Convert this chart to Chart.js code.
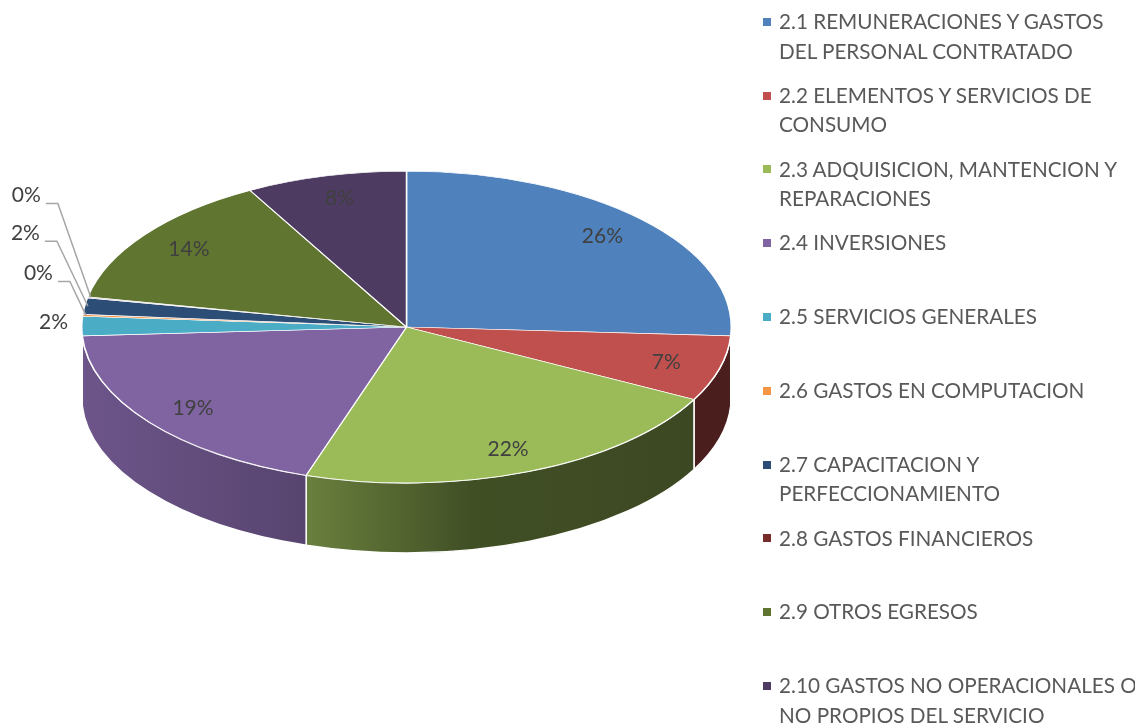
<!DOCTYPE html>
<html>
<head>
<meta charset="utf-8">
<script src="https://cdn.jsdelivr.net/npm/chart.js@4.4.1/dist/chart.umd.min.js"></script>
<style>
  html, body { margin: 0; padding: 0; background: #fff; overflow: hidden; }
  #wrap { position: relative; width: 1135px; height: 728px; }
  #pie { position: absolute; left: 0; top: 0; }
  #legend { position: absolute; left: 763px; top: 7px; width: 378px; font-family: Lato, sans-serif; font-size: 20.7px; color: #595959; }
  .item { position: relative; height: 73.8px; padding-left: 16px; line-height: 29.5px; }
  .item .box { position: absolute; left: 0; top: 10.75px; width: 8px; height: 8px; }
</style>
</head>
<body>
<div id="wrap">
  <canvas id="pie" width="1135" height="728"></canvas>
  <div id="legend"></div>
</div>
<script>
const categories = [
    '2.1 REMUNERACIONES Y GASTOS DEL PERSONAL CONTRATADO',
    '2.2 ELEMENTOS Y SERVICIOS DE CONSUMO',
    '2.3 ADQUISICION, MANTENCION Y REPARACIONES',
    '2.4 INVERSIONES',
    '2.5 SERVICIOS GENERALES',
    '2.6 GASTOS EN COMPUTACION',
    '2.7 CAPACITACION Y PERFECCIONAMIENTO',
    '2.8 GASTOS FINANCIEROS',
    '2.9 OTROS EGRESOS',
    '2.10 GASTOS NO OPERACIONALES O NO PROPIOS DEL SERVICIO'
];
const shares = [25.9, 6.8, 22.3, 19.1, 2.0, 0.2, 1.7, 0.1, 13.9, 8.0];
const colors = ['#4F81BD', '#C0504D', '#9BBB59', '#8064A2', '#4BACC6',
                '#F79646', '#2C4D75', '#772C2A', '#5F7530', '#4D3B62'];

// 3d look
const tilt = 0.48;
const depth = 70;
const topY = 327;
const sideShade = [[0, 0.85], [0.35, 0.68], [0.6, 0.42], [1, 0.38]];
// where the small outside labels sit, relative to their slice edge
const outsideOffsets = [[-17, -4], [-33, -42], [-48, -73], [-50, -102]];

function shade(hex, f) {
    const n = parseInt(hex.slice(1), 16);
    const r = (n >> 16) & 255, g = (n >> 8) & 255, b = n & 255;
    return `rgb(${Math.round(r * f)},${Math.round(g * f)},${Math.round(b * f)})`;
}

const pie3d = {
    id: 'pie3d',
    beforeDatasetsDraw(chart) {
        const ctx = chart.ctx;
        const arcs = chart.getDatasetMeta(0).data;
        const { x: cx, y: cy, outerRadius: R } = arcs[0];
        const r = R * tilt;

        // outer wall, only the front half shows
        arcs.forEach((arc, i) => {
            const a = Math.max(arc.startAngle, 0);
            const b = Math.min(arc.endAngle, Math.PI);
            if (b <= a) return;
            const grad = ctx.createLinearGradient(cx - R, 0, cx + R, 0);
            sideShade.forEach(([p, f]) => grad.addColorStop(p, shade(colors[i], f)));
            ctx.beginPath();
            ctx.ellipse(cx, topY, R, r, 0, a, b);
            ctx.ellipse(cx, topY + depth, R, r, 0, b, a, true);
            ctx.closePath();
            ctx.fillStyle = grad;
            ctx.fill();
            ctx.strokeStyle = '#fff';
            ctx.lineWidth = 1.5;
            ctx.stroke();
        });

        // squash the top face into an ellipse
        ctx.save();
        ctx.translate(0, topY);
        ctx.scale(1, tilt);
        ctx.translate(0, -cy);
    },
    afterDatasetsDraw(chart) {
        const ctx = chart.ctx;
        ctx.restore();

        const arcs = chart.getDatasetMeta(0).data;
        const { x: cx, outerRadius: R } = arcs[0];
        const r = R * tilt;
        const total = shares.reduce((s, v) => s + v, 0);

        ctx.save();
        ctx.font = '21px Lato, sans-serif';
        ctx.fillStyle = '#404040';
        ctx.textBaseline = 'middle';
        let k = 0;
        arcs.forEach((arc, i) => {
            const pct = Math.round(shares[i] / total * 100) + '%';
            const mid = (arc.startAngle + arc.endAngle) / 2;
            if (shares[i] / total >= 0.03) {
                ctx.textAlign = 'center';
                ctx.fillText(pct, cx + 0.83 * R * Math.cos(mid), topY + 0.85 * r * Math.sin(mid));
            } else {
                const ex = cx + 0.99 * R * Math.cos(mid);
                const ey = topY + 0.99 * r * Math.sin(mid);
                const [dx, dy] = outsideOffsets[k];
                const tx = ex + dx, ty = ey + dy;
                ctx.textAlign = 'right';
                ctx.fillText(pct, tx, ty);
                if (k > 0) {
                    ctx.beginPath();
                    ctx.moveTo(tx + 5, ty + 8);
                    ctx.lineTo(tx + 17, ty + 8);
                    ctx.lineTo(ex, ey);
                    ctx.strokeStyle = '#A6A6A6';
                    ctx.lineWidth = 1.5;
                    ctx.stroke();
                }
                k++;
            }
        });
        ctx.restore();
    }
};

const chart = new Chart(document.getElementById('pie').getContext('2d'), {
    type: 'pie',
    data: {
        labels: categories,
        datasets: [{
            data: shares,
            backgroundColor: colors,
            borderColor: '#fff',
            borderWidth: 1.5,
            clip: false
        }]
    },
    options: {
        responsive: false,
        animation: false,
        events: [],
        layout: { padding: { left: 81, right: 403, top: 0, bottom: 0 } },
        plugins: {
            legend: { display: false },
            tooltip: { enabled: false }
        }
    },
    plugins: [pie3d]
});

// legend on the right, wrapped like the original
const legend = document.getElementById('legend');
categories.forEach((label, i) => {
    const item = document.createElement('div');
    item.className = 'item';
    const box = document.createElement('span');
    box.className = 'box';
    box.style.background = colors[i];
    item.appendChild(box);
    item.appendChild(document.createTextNode(label));
    legend.appendChild(item);
});
</script>
</body>
</html>
